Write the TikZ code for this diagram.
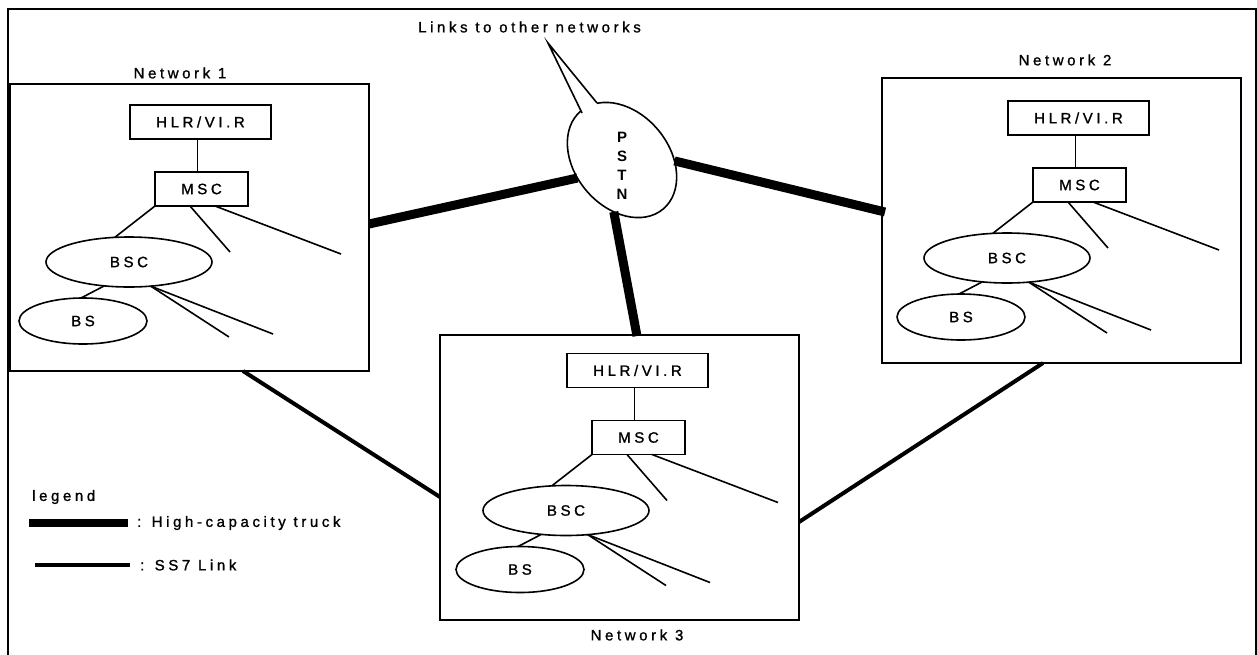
\documentclass[tikz,border=0pt]{standalone}
\usepackage{fontspec}
\setmainfont{Liberation Sans}
\newfontfamily\spacedfont[LetterSpace=24,FakeBold=1.2]{Liberation Sans}
\usetikzlibrary{shapes.geometric}

\tikzset{
  txt/.style={font=\spacedfont\fontsize{15}{18}\selectfont, inner sep=0pt},
  netbox/.style={draw, line width=2pt, rectangle, inner sep=0pt, outer sep=0pt},
  unit/.style={draw, line width=1.6pt, rectangle, inner sep=0pt, outer sep=0pt, font=\spacedfont\fontsize{15}{18}\selectfont},
  oval/.style={draw, line width=1.6pt, ellipse, inner sep=0pt, outer sep=0pt, font=\spacedfont\fontsize{15}{18}\selectfont},
  link/.style={line width=1.6pt},
  trunk/.style={line width=9pt},
  ss7/.style={line width=4pt},
}

\newcommand{\netparts}[3]{%
\begin{scope}[shift={(#2,#3)}]
 \node[unit, minimum width=141pt, minimum height=34pt] (#1-hlr) at (200.5,122) {HLR/VI.R};
 \node[unit, minimum width=93pt, minimum height=34pt] (#1-msc) at (201.5,189) {MSC};
 \node[oval, minimum width=166pt, minimum height=50pt] (#1-bsc) at (129,262) {BSC};
 \node[oval, minimum width=128pt, minimum height=46pt] (#1-bs) at (83,321) {BS};
 \coordinate (#1-m1) at (230,252);
 \coordinate (#1-m2) at (341,254);
 \coordinate (#1-b1) at (229,337);
 \coordinate (#1-b2) at (273,334);
\end{scope}
 \draw[link] ([xshift=-3pt]#1-hlr.south) -- ([xshift=-4pt]#1-msc.north);
 \draw[link] (#1-msc.south west) -- (#1-bsc.120);
 \draw[link] ([xshift=-11.5pt]#1-msc.south) -- (#1-m1);
 \draw[link] ([xshift=13.5pt]#1-msc.south) -- (#1-m2);
 \draw[link] (#1-bsc.224) -- (#1-bs.95);
 \draw[link] (#1-bsc.-48) -- (#1-b1);
 \draw[link] (#1-bsc.-48) -- (#1-b2);
}

\begin{document}
\begin{tikzpicture}[x=1pt,y=-1pt]
\useasboundingbox (0,0) rectangle (1257,654);
\fill[white] (0,0) rectangle (1257,654);

% outer frame (open at the bottom)
\coordinate (fbl) at (8,655);
\coordinate (ftl) at (8,9);
\coordinate (ftr) at (1256,9);
\coordinate (fbr) at (1256,655);
\draw[line width=2.5pt] (fbl) -- (ftl) -- (ftr) -- (fbr);

% network boxes
\node[netbox, minimum width=359pt, minimum height=287pt] (n1) at (189.5,227.5) {};
\node[netbox, minimum width=359pt, minimum height=285pt] (n2) at (1061.5,220.5) {};
\node[netbox, minimum width=359pt, minimum height=285pt] (n3) at (619.5,477.5) {};

\node[txt] (n1lbl) at (180,73) {Network 1};
\node[txt] (n2lbl) at (1065,60) {Network 2};
\node[txt] (n3lbl) at (637,635) {Network 3};

\netparts{a}{0}{0}
\netparts{b}{878}{-4}
\netparts{c}{437}{248.5}

% PSTN cloud with callout
\node[draw, ellipse, line width=1.6pt, minimum width=128pt, minimum height=94pt,
      inner sep=0pt, outer sep=0pt, rotate=-50] (pstn) at (622,160) {};
\coordinate (tip) at (548,43);
\coordinate (cb1) at (582,113);
\coordinate (cb2) at (597,103);
\coordinate (cin) at (596,116);
\fill[white] (tip) -- (cb1) -- (cin) -- (cb2) -- cycle;
\draw[line width=1.6pt, line join=miter] (cb1) -- (tip) -- (cb2);
\node[font=\bfseries\fontsize{15}{19}\selectfont, align=center, inner sep=0pt] (pstnlbl) at (622,165.5) {P\\S\\T\\N};
\node[txt] (links) at (529.5,27) {Links to other networks};

% trunks
\draw[trunk] ([yshift=3.5pt]n1.east) -- (pstn.252);
\draw[trunk] (pstn.49) -- ([yshift=8.5pt, xshift=3pt]n2.west);
\draw[trunk] (pstn.-49) -- ([xshift=17.5pt, yshift=-1pt]n3.north);

% SS7 links
\draw[ss7] ([xshift=53.5pt]n1.south) -- ([yshift=-19.5pt]n3.west);
\draw[ss7] ([xshift=-18.5pt]n2.south) -- ([yshift=-44.5pt]n3.east);

% legend
\node[txt, anchor=west] (leg) at (32,497) {legend};
\coordinate (lt1) at (29,523);
\coordinate (lt2) at (128,523);
\draw[line width=8pt] (lt1) -- (lt2);
\node[txt, anchor=west] (legt) at (137,523) {: High-capacity truck};
\coordinate (ls1) at (35,565);
\coordinate (ls2) at (130,565);
\draw[ss7] (ls1) -- (ls2);
\node[txt, anchor=west] (legs) at (140,565) {: SS7 Link};
\end{tikzpicture}
\end{document}
